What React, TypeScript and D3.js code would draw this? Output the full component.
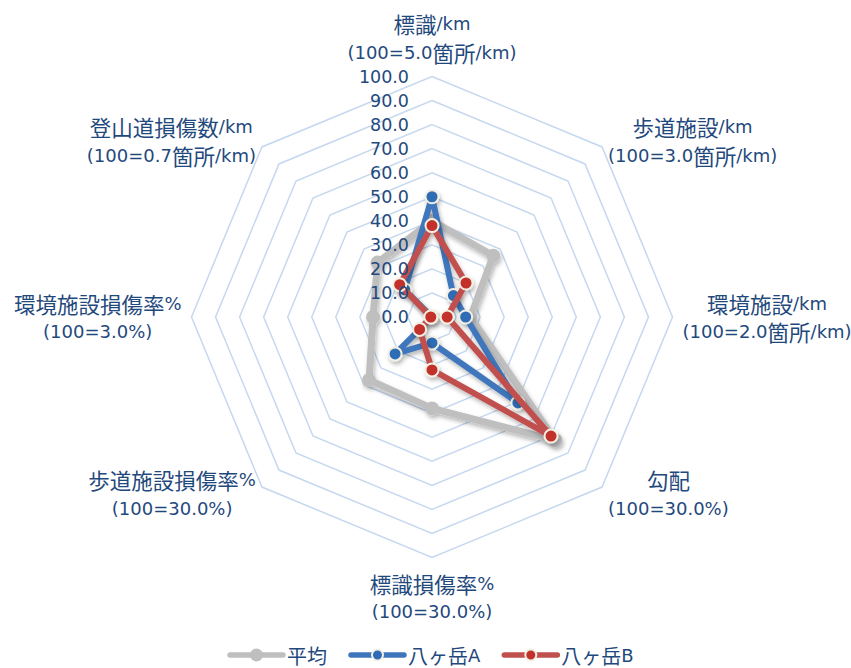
import React from "react";
import * as d3 from "d3";

// ---- data ----
const axisLabelLines: string[][] = [
  ["標識/km", "(100=5.0箇所/km)"],
  ["歩道施設/km", "(100=3.0箇所/km)"],
  ["環境施設/km", "(100=2.0箇所/km)"],
  ["勾配", "(100=30.0%)"],
  ["標識損傷率%", "(100=30.0%)"],
  ["歩道施設損傷率%", "(100=30.0%)"],
  ["環境施設損傷率%", "(100=3.0%)"],
  ["登山道損傷数/km", "(100=0.7箇所/km)"],
];
const seriesNames = ["平均", "八ヶ岳A", "八ヶ岳B"];
const avgValues = [40, 36, 16, 72.5, 38, 37, 24.5, 32];
const aValues = [50, 12.6, 14, 50.5, 10.8, 21.7, 0, 16];
const bValues = [38, 20, 6.3, 70, 22, 7.3, 0.5, 19];
const tickValues = [0, 10, 20, 30, 40, 50, 60, 70, 80, 90, 100];

// ---- styles ----
const W = 851;
const H = 668;
const CX = 432;
const CY = 317;
const R = 240.5;
const TEXT = "#1F497D";
const GRID = "#c6d8ef";
const LATIN = "'DejaVu Sans'";
const CJK = "'Noto Sans CJK JP'";
const seriesStyles = [
  { line: "#bfbfbf", fill: "#bfbfbf", stroke: "#bfbfbf", width: 7, r: 7, sw: 0 },
  { line: "#3f76bb", fill: "#2f6cb5", stroke: "#f3efe2", width: 6, r: 6.5, sw: 2 },
  { line: "#c0504d", fill: "#c3312c", stroke: "#f3efe2", width: 6, r: 6.5, sw: 2 },
];
const seriesValues = [avgValues, aValues, bValues];

const CJK_RE = /([\u3000-\u30ff\u3400-\u9fff\uff00-\uffef]+)/;

function splitRuns(t: string) {
  return t.split(CJK_RE).filter((s) => s.length > 0).map((s) => ({ s, cjk: CJK_RE.test(s) }));
}

let ctx: CanvasRenderingContext2D | null = null;
function measure(t: string, latin: number, cjk: number) {
  if (!ctx) ctx = document.createElement("canvas").getContext("2d");
  let w = 0;
  for (const run of splitRuns(t)) {
    ctx!.font = run.cjk ? `${cjk}px ${CJK}` : `${latin}px ${LATIN}`;
    w += ctx!.measureText(run.s).width;
  }
  return w;
}

function RichText({ text, x, y, latin, cjk, anchor = "middle" }: any) {
  return (
    <text
      x={x}
      y={y}
      textAnchor={anchor}
      dominantBaseline="central"
      fontFamily={`${LATIN}, ${CJK}`}
      fontSize={latin}
      fill={TEXT}
    >
      {splitRuns(text).map((run, i) =>
        run.cjk ? (
          <tspan key={i} fontFamily={CJK} fontSize={cjk}>
            {run.s}
          </tspan>
        ) : (
          <tspan key={i}>{run.s}</tspan>
        )
      )}
    </text>
  );
}

export default function App() {
  const n = axisLabelLines.length;
  const rScale = d3.scaleLinear().domain([0, 100]).range([0, R]);
  const angle = d3.scaleLinear().domain([0, n]).range([0, 2 * Math.PI]);
  const idx = d3.range(n);

  const radial = d3
    .lineRadial<number>()
    .angle((_, i) => angle(i))
    .radius((d) => rScale(d))
    .curve(d3.curveLinearClosed);

  const pt = (i: number, v: number) => {
    const a = angle(i);
    return [Math.sin(a) * rScale(v), -Math.cos(a) * rScale(v)];
  };

  const LAT = 18;
  const CJ = 21.5;
  const lineH = 28.5;

  const labels = idx.map((i) => {
    const a = angle(i);
    const sx = Math.sin(a);
    const sy = -Math.cos(a);
    const vx = CX + sx * R;
    const vy = CY + sy * R;
    const lines = axisLabelLines[i];
    const w = Math.max(...lines.map((l) => measure(l, LAT, CJ)));
    let cx = vx;
    let cyBlock = vy;
    if (Math.abs(sx) < 0.01) {
      const off = 25 + (lineH * (lines.length - 1)) / 2;
      cyBlock = vy + (sy < 0 ? -off : off);
    } else {
      const gap = Math.abs(sy) < 0.01 ? 10 : 6;
      cx = vx + Math.sign(sx) * (gap + w / 2);
      cyBlock = vy + sy * 9;
    }
    return lines.map((l, k) => ({
      text: l,
      x: cx,
      y: cyBlock + (k - (lines.length - 1) / 2) * lineH,
    }));
  });

  // legend layout
  const legLineLen = 53;
  const legY = 655;
  let lx = 230;
  const legendItems = seriesNames.map((name, s) => {
    const x0 = lx;
    const tw = measure(name, LAT, 20);
    lx = x0 + legLineLen + 4 + tw + 24;
    return { name, x0, tw, s };
  });

  return (
    <svg
      width={W}
      height={H}
      style={{ position: "absolute", left: 0, top: 0, background: "#fff" }}
    >
      <defs>
        <filter id="sh" x="-20%" y="-20%" width="140%" height="140%">
          <feDropShadow dx="1.5" dy="3" stdDeviation="2.2" floodColor="#000" floodOpacity="0.28" />
        </filter>
      </defs>
      <rect width={W} height={H} fill="#fff" />
      <g transform={`translate(${CX},${CY})`}>
        {tickValues.slice(1).map((t) => (
          <path
            key={t}
            d={radial(idx.map(() => t)) as string}
            fill="none"
            stroke={GRID}
            strokeWidth={1.5}
          />
        ))}
        {seriesValues.map((vals, s) => {
          const st = seriesStyles[s];
          return (
            <g key={s} filter="url(#sh)">
              <path
                d={radial(vals) as string}
                fill="none"
                stroke={st.line}
                strokeWidth={st.width}
                strokeLinejoin="round"
              />
              {vals.map((v, i) => {
                const [x, y] = pt(i, v);
                return (
                  <circle
                    key={i}
                    cx={x}
                    cy={y}
                    r={st.r}
                    fill={st.fill}
                    stroke={st.stroke}
                    strokeWidth={st.sw}
                  />
                );
              })}
            </g>
          );
        })}
      </g>
      {tickValues.map((t) => (
        <text
          key={t}
          x={CX - 23}
          y={CY - rScale(t)}
          textAnchor="end"
          dominantBaseline="central"
          fontFamily={LATIN}
          fontSize={17.5}
          fill={TEXT}
        >
          {t.toFixed(1)}
        </text>
      ))}
      {labels.map((ls, i) =>
        ls.map((l, k) => (
          <RichText key={`${i}-${k}`} text={l.text} x={l.x} y={l.y} latin={LAT} cjk={CJ} />
        ))
      )}
      {legendItems.map((it) => {
        const st = seriesStyles[it.s];
        return (
          <g key={it.name}>
            <line
              x1={it.x0}
              x2={it.x0 + legLineLen}
              y1={legY}
              y2={legY}
              stroke={st.line}
              strokeWidth={5.5}
              strokeLinecap="round"
            />
            <circle
              cx={it.x0 + legLineLen / 2}
              cy={legY}
              r={st.sw ? 5.5 : 6.5}
              fill={st.fill}
              stroke={st.stroke}
              strokeWidth={st.sw}
            />
            <RichText
              text={it.name}
              x={it.x0 + legLineLen + 4}
              y={legY}
              latin={LAT}
              cjk={20}
              anchor="start"
            />
          </g>
        );
      })}
    </svg>
  );
}
